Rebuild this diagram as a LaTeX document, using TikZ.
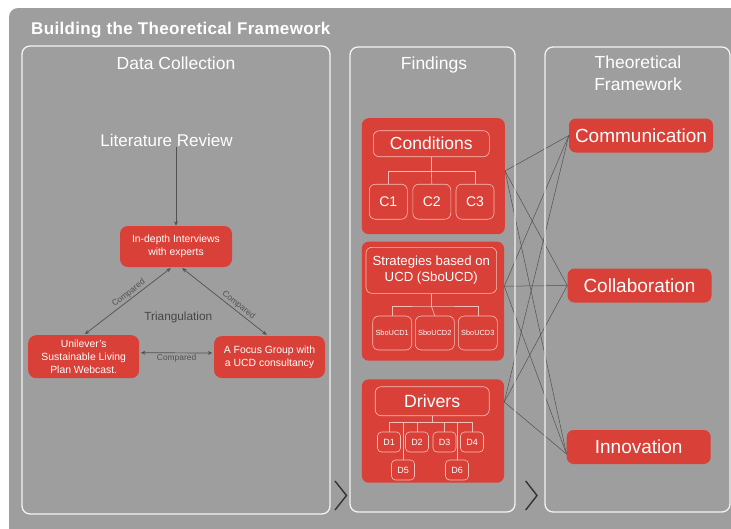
\documentclass[tikz,border=0pt]{standalone}
\usepackage{fontspec}
\setmainfont{Liberation Sans}
\usepackage{xcolor}
\usetikzlibrary{arrows.meta,positioning}
\definecolor{boardgray}{RGB}{158,158,158}
\definecolor{ucdred}{RGB}{217,64,55}
\definecolor{rimpink}{RGB}{246,190,184}
\definecolor{panelrim}{RGB}{243,243,243}
\definecolor{wiregray}{RGB}{82,82,82}
\tikzset{
	x=1pt, y=-1pt,
	panel/.style={draw=panelrim, line width=1.3pt, rounded corners=8pt},
	paneltitle/.style={anchor=base, inner sep=0pt, text=white, align=center,
			font=\fontsize{17.5}{22.4}\selectfont},
	redblock/.style={fill=ucdred, rounded corners=7pt, inner sep=0pt},
	method/.style={redblock, rounded corners=8pt, text=white, align=center,
			font=\fontsize{10.4}{12.8}\selectfont},
	tag/.style={draw=rimpink, line width=0.6pt, rounded corners=6pt,
			inner sep=0pt, text=white, align=center},
	tagline/.style={draw=rimpink, line width=0.6pt},
	concept/.style={redblock, minimum width=144pt, minimum height=34pt,
			text=white, font=\fontsize{19}{22}\selectfont},
	wire/.style={draw=wiregray, line width=0.5pt},
	compare/.style={draw=wiregray, line width=0.7pt,
			{Stealth[length=4.5pt,width=4pt]}-{Stealth[length=4.5pt,width=4pt]},
			shorten <=1.5pt, shorten >=1.5pt},
	note/.style={text=wiregray, font=\fontsize{8.4}{10}\selectfont, inner sep=1.5pt},
	chevron/.style={draw=black!80, line width=1.4pt},
}

\begin{document}
\begin{tikzpicture}
	\useasboundingbox (0,0) rectangle (731,528);
	\clip (0,0) rectangle (731,528);
	\fill[boardgray, rounded corners=9pt] (9,8) rectangle (760,545);

	\node[anchor=base west, inner sep=0pt, text=white,
		font=\bfseries\fontsize{17}{20}\selectfont\addfontfeature{LetterSpace=2}]
	(heading) at (31,34.3) {Building the Theoretical Framework};

	% data collection
	\node[paneltitle] (datatitle) at (176,69.3) {Data Collection};
	\node[anchor=base, inner sep=0pt, text=white, font=\fontsize{17}{20}\selectfont]
	(litreview) at (166.5,146.7) {Literature Review};
	\node[method, minimum width=112pt, minimum height=41pt] (interviews) at (176,246.5)
	{In-depth Interviews\\with experts};
	\node[method, minimum width=111pt, minimum height=43pt] (unilever) at (83.7,356.7)
	{Unilever's\\Sustainable Living\\Plan Webcast.};
	\node[method, minimum width=111pt, minimum height=42pt] (focus) at (269.5,357)
	{A Focus Group with\\a UCD consultancy};
	\node[text=black!72, font=\fontsize{11.8}{14}\selectfont] (triangulation) at (178.3,317.3)
	{Triangulation};

	\draw[wiregray, line width=0.7pt, -{Stealth[length=4.5pt,width=4pt]}]
	(interviews.north |- litreview.south) -- (interviews.north);
	\draw[compare] ([xshift=-4pt]interviews.south) -- (unilever.north)
	node[pos=0.45, sloped, above, note] {Compared};
	\draw[compare] ([xshift=5pt]interviews.south) -- ([xshift=-1.5pt]focus.north)
	node[pos=0.62, sloped, above, note] {Compared};
	\draw[compare] ([yshift=4pt]unilever.east) -- ([yshift=4pt]focus.west)
	node[midway, below, note] {Compared};

	% findings
	\node[paneltitle] (findtitle) at (434,69.3) {Findings};

	\node[redblock, minimum width=143pt, minimum height=116pt] (conditions) at (433.3,176.2) {};
	\node[tag, minimum width=116pt, minimum height=26pt, font=\fontsize{17.5}{20}\selectfont]
	(condhead) at (431.3,143.7) {Conditions};
	\foreach \x [count=\i] in {388.3,431.8,475}
	\node[tag, minimum width=38pt, minimum height=35pt, font=\fontsize{14}{16}\selectfont]
	(c\i) at (\x,201.7) {C\i};
	\draw[tagline] (condhead.south) -- ++(0,14.3) coordinate (cj);
	\draw[tagline] (c1.north) |- (cj) -| (c3.north);
	\draw[tagline] (cj) -- (c2.north);

	\node[redblock, minimum width=142.3pt, minimum height=119pt] (strategies) at (432.9,301.2) {};
	\node[tag, minimum width=130.7pt, minimum height=46pt, font=\fontsize{13.2}{15.7}\selectfont]
	(strathead) at (431.3,270.3) {Strategies based on\\UCD (SboUCD)};
	\foreach \x [count=\i] in {392.2,434.8,477.8}
	\node[tag, minimum width=39pt, minimum height=34pt, font=\fontsize{7.4}{9}\selectfont]
	(s\i) at (\x,333) {SboUCD\i};
	\draw[tagline] (strathead.south) -- ++(0,12.4) coordinate (sj);
	\draw[tagline] (s1.north) |- (sj) -| (s3.north);
	\draw[tagline] (sj) -- (s2.north);

	\node[redblock, minimum width=142.3pt, minimum height=103.4pt] (drivers) at (432.9,431) {};
	\node[tag, minimum width=114pt, minimum height=29pt, font=\fontsize{17.7}{20}\selectfont]
	(drivhead) at (432.2,401.2) {Drivers};
	\foreach \x/\y [count=\i] in {389/442,417/442,444.5/442,472/442,403/470,457/470}
	\node[tag, rounded corners=4pt, minimum width=23pt, minimum height=20pt,
		font=\fontsize{9}{10}\selectfont] (d\i) at (\x,\y) {D\i};
	\draw[tagline] (drivhead.south) -- ++(0,6.6) coordinate (dj);
	\draw[tagline] (d1.north) |- (dj) -| (d4.north);
	\foreach \i in {2,3,5,6}
	\draw[tagline] (d\i.north) -- (d\i.north |- dj);

	% theoretical framework
	\node[paneltitle] (theorytitle) at (638,90.7) {Theoretical\\Framework};
	\node[concept] (communication) at (641,135.5) {Communication};
	\node[concept] (collaboration) at (639.5,285.5) {Collaboration};
	\node[concept] (innovation) at (638.7,447) {Innovation};

	\coordinate (condout) at ([yshift=5.2pt]conditions.east);
	\coordinate (stratout) at ([yshift=15pt]strategies.east);
	\coordinate (drivout) at ([yshift=29pt]drivers.east);
	\coordinate (innovin) at ([yshift=-7pt]innovation.west);
	\foreach \src in {condout,stratout,drivout}
	\foreach \dst in {communication.west,collaboration.west,innovin}
	\draw[wire] (\src) -- (\dst);

	\draw[panel] (22,46) rectangle (330,514);
	\draw[panel] (350,47) rectangle (515,512);
	\draw[panel] (545,47) rectangle (730,512);

	\draw[chevron] (335,481) -- (346.5,495.5) -- (335,510);
	\draw[chevron] (525.7,481) -- (537,495.5) -- (525.7,510);
\end{tikzpicture}
\end{document}
